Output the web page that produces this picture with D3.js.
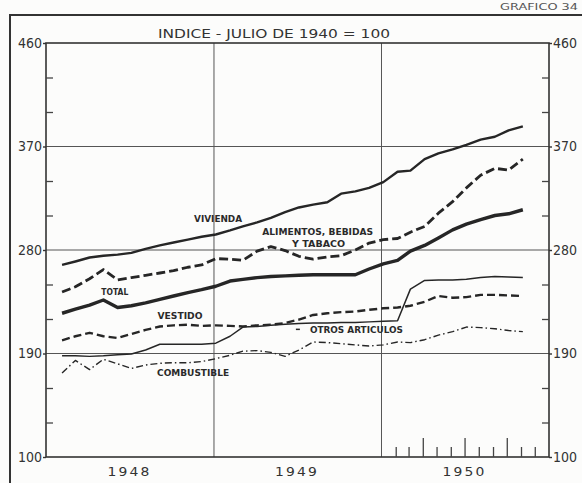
<!DOCTYPE html>
<html>
<head>
<meta charset="utf-8">
<script src="https://cdn.jsdelivr.net/npm/d3@7"></script>
<style>
  body { margin: 0; background: #fcfcfb; }
  svg { display: block; }
  .num { font-family: "Liberation Sans Narrow", "DejaVu Sans Condensed", "Roboto", sans-serif; font-size: 14px; fill: #333; }
  .lbl { font-family: "DejaVu Sans", sans-serif; font-size: 8.5px; font-weight: bold; fill: #2a2a2a; }
</style>
</head>
<body>
<div id="chart"></div>
<script>
// monthly index values, Feb 1948 .. Nov 1950 (julio 1940 = 100)
const startMonth = new Date(1948, 1, 5);
const years = ["1948", "1949", "1950"];
const yTickLabels = [100, 190, 280, 370, 460];
const yMinorTicks = [130, 160, 220, 250, 310, 340, 400, 430];

const vivienda = [267, 270, 273.5, 275, 276, 277.5, 281, 284, 286.5, 289, 291.5, 293.5,
  297, 300.5, 304, 308, 313, 317, 319.5, 321.5, 329, 331, 334, 339,
  348, 349, 359, 364, 367.5, 371.5, 376, 378.5, 384, 387.5];
const alimentos = [243.5, 248, 255, 263, 254, 256, 258, 260, 262, 265, 267, 272.5,
  272, 271, 279, 283, 279.5, 274.5, 272, 274, 275, 280, 286, 289,
  290, 295.5, 300.5, 312, 322, 334, 345, 351, 349.5, 359];
const total = [225, 228.5, 232, 236.5, 230, 231.5, 234, 237, 240, 243, 245.5, 248.5,
  253, 254.5, 256, 257, 257.5, 258, 258.5, 258.5, 258.5, 258.5, 263.5, 268,
  271, 279, 284, 290.5, 297.5, 302.5, 306.5, 310, 311.5, 315];
const vestido = [201.5, 205, 208, 205, 203.5, 207, 210.5, 213.5, 214.5, 215, 214, 214.5,
  214, 213.5, 214.5, 215, 216.5, 219.5, 223.5, 225, 226, 226.5, 228, 229.3,
  230, 231.5, 235, 240, 238.5, 239, 241, 241, 240.5, 240];
const otros = [188, 188, 187.5, 188, 189, 189.5, 193, 198, 198, 198, 198, 199,
  205, 213, 213.5, 214.5, 215.5, 216, 216.5, 216.5, 217, 217, 217.5, 218,
  218.5, 246, 253.5, 254, 254, 254.5, 256, 257, 256.5, 256];
const combustible = [173, 184, 176, 185, 181, 177, 180, 181.5, 182, 182, 183, 185.5,
  188.5, 192, 192.5, 191, 187.5, 193, 200, 199.5, 198.5, 197.5, 196.5, 197.5,
  200, 199.5, 202, 206, 209, 213, 212.5, 211.5, 210, 209];

const W = 582, H = 483;
const margin = { top: 43, right: 33, bottom: 26, left: 46 };

const svg = d3.select('#chart').append('svg')
    .attr('width', W)
    .attr('height', H);

const x = d3.scaleTime()
    .domain([new Date(1948, 0, 1), new Date(1951, 0, 1)])
    .range([margin.left, W - margin.right]);
const y = d3.scaleLinear()
    .domain([100, 460])
    .range([H - margin.bottom, margin.top]);

const ink = '#262626';

// outer frame (top + left) and sheet number
svg.append('path')
    .attr('d', 'M10,' + H + 'V15H' + W)
    .attr('fill', 'none')
    .attr('stroke', '#333')
    .attr('stroke-width', 2);
svg.append('text')
    .attr('x', 578).attr('y', 10)
    .attr('text-anchor', 'end')
    .attr('textLength', 78).attr('lengthAdjust', 'spacingAndGlyphs')
    .style('font-family', 'DejaVu Sans').style('font-size', '9px').style('fill', '#555')
    .text('GRAFICO  34');

// title
svg.append('text')
    .attr('x', 274).attr('y', 38)
    .attr('text-anchor', 'middle')
    .attr('textLength', 232).attr('lengthAdjust', 'spacingAndGlyphs')
    .style('font-family', 'DejaVu Sans').style('font-size', '13px').style('fill', '#333')
    .text('INDICE - JULIO DE 1940 = 100');

// grid lines
const grid = svg.append('g').attr('stroke', '#555').attr('stroke-width', 1);
grid.selectAll('line.h')
    .data([190, 280, 370])
    .enter().append('line')
    .attr('x1', x.range()[0]).attr('x2', x.range()[1])
    .attr('y1', d => y(d)).attr('y2', d => y(d));
grid.selectAll('line.v')
    .data([new Date(1949, 0, 1), new Date(1950, 0, 1)])
    .enter().append('line')
    .attr('x1', d => x(d)).attr('x2', d => x(d))
    .attr('y1', y.range()[0]).attr('y2', y.range()[1]);

// plot box
svg.append('rect')
    .attr('x', x.range()[0]).attr('y', y.range()[1])
    .attr('width', x.range()[1] - x.range()[0])
    .attr('height', y.range()[0] - y.range()[1])
    .attr('fill', 'none')
    .attr('stroke', '#333')
    .attr('stroke-width', 1.6);

// y axes: labels outside, minor ticks inside
svg.append('g')
    .attr('class', 'num')
    .attr('transform', 'translate(' + x.range()[0] + ',0)')
    .call(d3.axisLeft(y).tickValues(yTickLabels).tickSize(3).tickPadding(1))
    .call(g => g.select('.domain').remove());
svg.append('g')
    .attr('class', 'num')
    .attr('transform', 'translate(' + x.range()[1] + ',0)')
    .call(d3.axisRight(y).tickValues(yTickLabels).tickSize(3).tickPadding(1))
    .call(g => g.select('.domain').remove());
svg.selectAll('.num text').attr('class', 'num').style('font-size', '14px').attr('font-family', null);
svg.selectAll('.num line').attr('stroke', '#333').attr('stroke-width', 1.4);

svg.append('g')
    .attr('transform', 'translate(' + x.range()[0] + ',0)')
    .call(d3.axisRight(y).tickValues(yMinorTicks).tickSize(7).tickFormat(''))
    .call(g => g.select('.domain').remove())
    .selectAll('line').attr('stroke', '#444').attr('stroke-width', 1.3);
svg.append('g')
    .attr('transform', 'translate(' + x.range()[1] + ',0)')
    .call(d3.axisLeft(y).tickValues(yMinorTicks).tickSize(7).tickFormat(''))
    .call(g => g.select('.domain').remove())
    .selectAll('line').attr('stroke', '#444').attr('stroke-width', 1.3);

// month ticks in 1950
const months1950 = d3.timeMonth.range(new Date(1950, 1, 1), new Date(1951, 0, 1));
svg.append('g')
    .attr('transform', 'translate(0,' + y.range()[0] + ')')
    .call(d3.axisTop(x).tickValues(months1950)
        .tickSize(0).tickFormat(''))
    .call(g => g.select('.domain').remove())
    .selectAll('line')
    .attr('y2', d => d.getMonth() % 3 === 0 ? -19 : -10)
    .attr('stroke', '#444').attr('stroke-width', 1.3);

// year labels
svg.selectAll('text.year')
    .data(years)
    .enter().append('text')
    .attr('class', 'year')
    .attr('x', d => x(new Date(+d, 6, 1)))
    .attr('y', H - 7)
    .attr('text-anchor', 'middle')
    .attr('textLength', 44).attr('lengthAdjust', 'spacingAndGlyphs')
    .style('font-family', 'DejaVu Sans').style('font-size', '13px')
    .style('letter-spacing', '2px').style('fill', '#333')
    .text(d => d);

// series
const dateAt = i => d3.timeMonth.offset(startMonth, i);
const line = d3.line()
    .x((d, i) => x(dateAt(i)))
    .y(d => y(d));

const series = [
  { values: combustible, width: 1.4, dash: '7,3,1.5,3' },
  { values: otros, width: 1.5, dash: null },
  { values: vestido, width: 2.4, dash: '8,4' },
  { values: total, width: 3.4, dash: null },
  { values: alimentos, width: 2.8, dash: '9,4' },
  { values: vivienda, width: 2.4, dash: null }
];

svg.selectAll('path.serie')
    .data(series)
    .enter().append('path')
    .attr('class', 'serie')
    .attr('d', d => line(d.values))
    .attr('fill', 'none')
    .attr('stroke', ink)
    .attr('stroke-width', d => d.width)
    .attr('stroke-dasharray', d => d.dash)
    .attr('stroke-linejoin', 'round');

// series labels
const labels = [
  { text: 'VIVIENDA', date: new Date(1949, 0, 10), v: 304.3, anchor: 'middle', len: 48 },
  { text: 'ALIMENTOS, BEBIDAS', date: new Date(1949, 7, 15), v: 293, anchor: 'middle', len: 111 },
  { text: 'Y TABACO', date: new Date(1949, 7, 17), v: 282.6, anchor: 'middle', len: 53 },
  { text: 'TOTAL', date: new Date(1948, 4, 30), v: 240.9, anchor: 'middle', len: 27 },
  { text: 'VESTIDO', date: new Date(1948, 9, 19), v: 220, anchor: 'middle', len: 45 },
  { text: 'OTROS ARTICULOS', date: new Date(1949, 6, 29), v: 207.8, anchor: 'start', len: 93 },
  { text: 'COMBUSTIBLE', date: new Date(1948, 7, 30), v: 170.4, anchor: 'start', len: 72 }
];
svg.selectAll('text.lbl')
    .data(labels)
    .enter().append('text')
    .attr('class', 'lbl')
    .attr('x', d => x(d.date))
    .attr('y', d => y(d.v))
    .attr('text-anchor', d => d.anchor)
    .attr('textLength', d => d.len)
    .attr('lengthAdjust', 'spacingAndGlyphs')
    .text(d => d.text);
// small leader mark before OTROS ARTICULOS
svg.append('line')
    .attr('x1', x(new Date(1949, 6, 29)) - 14).attr('x2', x(new Date(1949, 6, 29)) - 10)
    .attr('y1', y(211)).attr('y2', y(211))
    .attr('stroke', ink).attr('stroke-width', 1.5);
</script>
</body>
</html>
